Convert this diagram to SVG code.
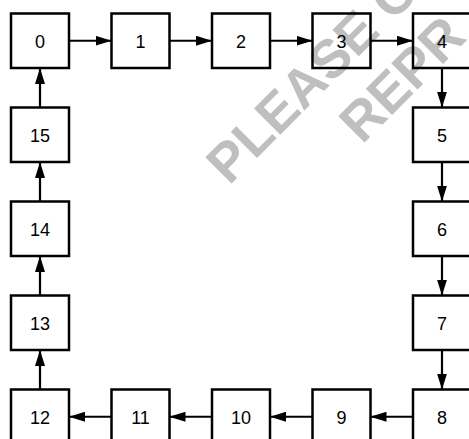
<svg xmlns="http://www.w3.org/2000/svg" width="469" height="439" viewBox="0 0 469 439">
<style>
.box{fill:none;stroke:#000;stroke-width:2.5}
.lbl{font-family:"Liberation Sans",Arial,sans-serif;font-size:18px;fill:#000;text-anchor:middle}
.wm{font-family:"Liberation Sans",Arial,sans-serif;font-weight:bold;font-size:54px;fill:#bfbfbf}
.c{stroke:#000;stroke-width:2.2;fill:none;marker-end:url(#ah)}
</style>
<defs>
<marker id="ah" markerUnits="userSpaceOnUse" markerWidth="16" markerHeight="10" refX="16" refY="5" orient="auto">
<path d="M0,0 L16,5 L0,10 z" fill="#000"/>
</marker>
</defs>
<rect width="469" height="439" fill="#fff"/>
<g id="watermark">
<text class="wm" transform="translate(229,186) rotate(-45)">PLEASE C</text>
<text class="wm" transform="translate(362,145) rotate(-45)">REPR</text>
</g>
<g id="connectors">
<line class="c" x1="69" y1="40.75" x2="111.5" y2="40.75"/>
<line class="c" x1="169.5" y1="40.75" x2="212" y2="40.75"/>
<line class="c" x1="270" y1="40.75" x2="312.5" y2="40.75"/>
<line class="c" x1="370.5" y1="40.75" x2="413" y2="40.75"/>
<line class="c" x1="442" y1="68" x2="442" y2="107.5"/>
<line class="c" x1="442" y1="162" x2="442" y2="201.5"/>
<line class="c" x1="442" y1="256" x2="442" y2="295.5"/>
<line class="c" x1="442" y1="350" x2="442" y2="389.5"/>
<line class="c" x1="413" y1="416.75" x2="370.5" y2="416.75"/>
<line class="c" x1="312.5" y1="416.75" x2="270" y2="416.75"/>
<line class="c" x1="212" y1="416.75" x2="169.5" y2="416.75"/>
<line class="c" x1="111.5" y1="416.75" x2="69" y2="416.75"/>
<line class="c" x1="40" y1="389.5" x2="40" y2="350"/>
<line class="c" x1="40" y1="295.5" x2="40" y2="256"/>
<line class="c" x1="40" y1="201.5" x2="40" y2="162"/>
<line class="c" x1="40" y1="107.5" x2="40" y2="68"/>
</g>
<g id="n0"><rect class="box" x="11" y="13.5" width="58" height="54.5"/><text class="lbl" x="40" y="47.75">0</text></g>
<g id="n1"><rect class="box" x="111.5" y="13.5" width="58" height="54.5"/><text class="lbl" x="140.5" y="47.75">1</text></g>
<g id="n2"><rect class="box" x="212" y="13.5" width="58" height="54.5"/><text class="lbl" x="241" y="47.75">2</text></g>
<g id="n3"><rect class="box" x="312.5" y="13.5" width="58" height="54.5"/><text class="lbl" x="341.5" y="47.75">3</text></g>
<g id="n4"><rect class="box" x="413" y="13.5" width="58" height="54.5"/><text class="lbl" x="442" y="47.75">4</text></g>
<g id="n5"><rect class="box" x="413" y="107.5" width="58" height="54.5"/><text class="lbl" x="442" y="141.75">5</text></g>
<g id="n6"><rect class="box" x="413" y="201.5" width="58" height="54.5"/><text class="lbl" x="442" y="235.75">6</text></g>
<g id="n7"><rect class="box" x="413" y="295.5" width="58" height="54.5"/><text class="lbl" x="442" y="329.75">7</text></g>
<g id="n8"><rect class="box" x="413" y="389.5" width="58" height="54.5"/><text class="lbl" x="442" y="423.75">8</text></g>
<g id="n9"><rect class="box" x="312.5" y="389.5" width="58" height="54.5"/><text class="lbl" x="341.5" y="423.75">9</text></g>
<g id="n10"><rect class="box" x="212" y="389.5" width="58" height="54.5"/><text class="lbl" x="241" y="423.75">10</text></g>
<g id="n11"><rect class="box" x="111.5" y="389.5" width="58" height="54.5"/><text class="lbl" x="140.5" y="423.75">11</text></g>
<g id="n12"><rect class="box" x="11" y="389.5" width="58" height="54.5"/><text class="lbl" x="40" y="423.75">12</text></g>
<g id="n13"><rect class="box" x="11" y="295.5" width="58" height="54.5"/><text class="lbl" x="40" y="329.75">13</text></g>
<g id="n14"><rect class="box" x="11" y="201.5" width="58" height="54.5"/><text class="lbl" x="40" y="235.75">14</text></g>
<g id="n15"><rect class="box" x="11" y="107.5" width="58" height="54.5"/><text class="lbl" x="40" y="141.75">15</text></g>
</svg>
